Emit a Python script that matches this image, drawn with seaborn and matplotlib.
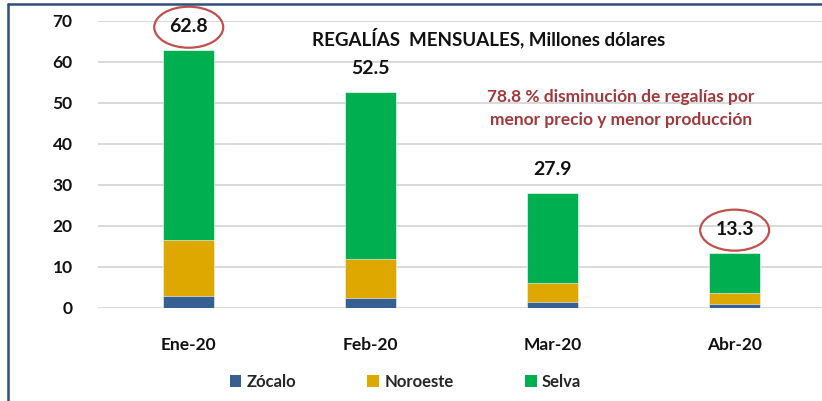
import matplotlib
matplotlib.use("Agg")
import matplotlib.pyplot as plt
from matplotlib.patches import Ellipse, Patch
from matplotlib.lines import Line2D
import seaborn as sns
import pandas as pd
import numpy as np

months = ["Ene-20", "Feb-20", "Mar-20", "Abr-20"]
zocalo = [2.9, 2.4, 1.5, 1.0]
noroeste = [13.5, 9.5, 4.6, 2.6]
totals = [62.8, 52.5, 27.9, 13.3]
series_names = ["Zócalo", "Noroeste", "Selva"]
colors = {"Zócalo": "#376092", "Noroeste": "#DFA800", "Selva": "#00B050"}
title_text = "REGALÍAS  MENSUALES, Millones dólares"
note_text = "78.8 % disminución de regalías por\nmenor precio y menor producción"
circled = ["Ene-20", "Abr-20"]

selva = [t - z - n for t, z, n in zip(totals, zocalo, noroeste)]
df = pd.DataFrame({"mes": months, "Zócalo": zocalo, "Noroeste": noroeste, "Selva": selva})
df["cum_z"] = df["Zócalo"]
df["cum_n"] = df["Zócalo"] + df["Noroeste"]
df["cum_s"] = df["cum_n"] + df["Selva"]

sns.set_theme(style="white")
plt.rcParams["font.family"] = ["Lato", "DejaVu Sans"]

fig = plt.figure(figsize=(8.22, 4.01), dpi=100)
ax = fig.add_axes([0.1189, 0.2327, 0.8811, 0.7157])

for col, name in [("cum_s", "Selva"), ("cum_n", "Noroeste"), ("cum_z", "Zócalo")]:
    sns.barplot(data=df, x="mes", y=col, color=colors[name], width=0.28,
                saturation=1, ax=ax, edgecolor="white", linewidth=0.4)

ax.set_ylim(0, 70)
ax.set_xlim(-0.5, 3.48)
ax.set_yticks(range(0, 71, 10))
ax.yaxis.grid(True, color="#D9D9D9", linewidth=1.4)
ax.set_axisbelow(True)
for s in ax.spines.values():
    s.set_visible(False)
ax.set_xlabel("")
ax.set_ylabel("")
ax.tick_params(axis="y", length=0, pad=18, labelsize=12.5)
ax.tick_params(axis="x", length=0, pad=21, labelsize=12.5)
for lab in ax.get_yticklabels() + ax.get_xticklabels():
    lab.set_fontweight("bold")
    lab.set_color("#111111")

# value labels
for i, t in enumerate(totals):
    ax.annotate(f"{t:.1f}", xy=(i, t), xytext=(0, 11), textcoords="offset points",
                ha="center", va="bottom", fontsize=14, fontweight="bold", color="#111111")

for m in circled:
    i = months.index(m)
    t = totals[i]
    cx_disp, cy_disp = ax.transData.transform((i, t))
    cy_disp += 23
    e = Ellipse((cx_disp, cy_disp), 69, 41, transform=None, fill=False,
                edgecolor="#C0504D", linewidth=1.6)
    fig.add_artist(e)

fig.text(0.595, 0.905, title_text, ha="center", va="center", fontsize=13.5,
         fontweight="bold", color="#111111")
fig.text(0.755, 0.73, note_text, ha="center", va="center", fontsize=12.5,
         fontweight="bold", color="#A0393B", linespacing=1.55)

# legend
handles = [Patch(facecolor=colors[n], edgecolor="none") for n in series_names]
leg = fig.legend(handles, series_names, loc="center", bbox_to_anchor=(0.493, 0.047),
                 ncol=3, frameon=False, fontsize=12, handlelength=0.7, handleheight=0.7,
                 columnspacing=4.3, handletextpad=0.3)
for t in leg.get_texts():
    t.set_fontweight("bold")

# frame lines (top and left)
fig.add_artist(Line2D([7.5 / 822, 1.0], [1 - 3.5 / 401, 1 - 3.5 / 401], transform=fig.transFigure,
                      color="#2F4F7F", linewidth=1.8))
fig.add_artist(Line2D([7.5 / 822, 7.5 / 822], [0, 1 - 3.5 / 401], transform=fig.transFigure,
                      color="#2F4F7F", linewidth=1.8))

fig.savefig("out.png", dpi=100)
